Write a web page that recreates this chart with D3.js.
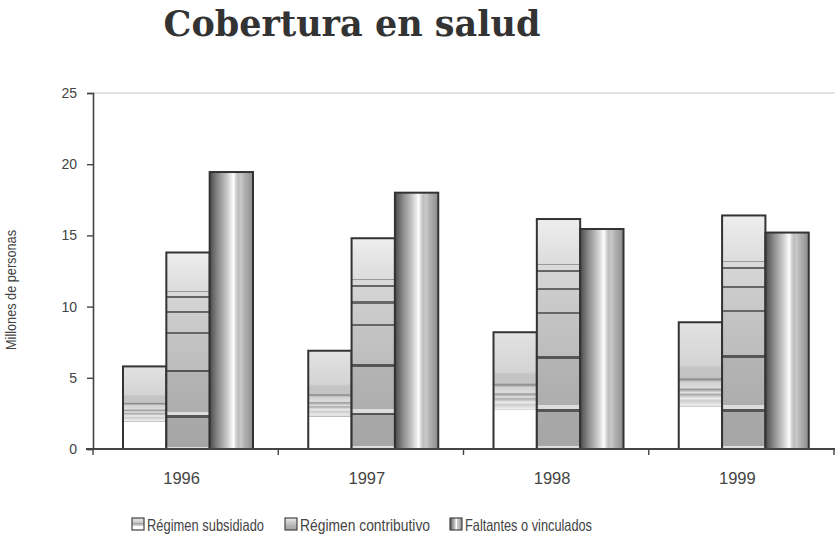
<!DOCTYPE html>
<html>
<head>
<meta charset="utf-8">
<script src="https://cdn.jsdelivr.net/npm/d3@7/dist/d3.min.js"></script>
<style>
  body { margin: 0; background: #fff; }
  svg { display: block; }
</style>
</head>
<body>
<script>
// data (millions of people)
const years = ["1996", "1997", "1998", "1999"];
const seriesNames = ["Régimen subsidiado", "Régimen contributivo", "Faltantes o vinculados"];
const subsidiado = [5.8, 6.9, 8.2, 8.9];
const contributivo = [13.8, 14.8, 16.15, 16.4];
const faltantes = [19.45, 18.0, 15.45, 15.2];
const yTicks = [0, 5, 10, 15, 20, 25];

const W = 835, H = 542;
const svg = d3.select("body").append("svg")
  .attr("width", W)
  .attr("height", H)
  .attr("xmlns", "http://www.w3.org/2000/svg");

svg.append("rect").attr("width", W).attr("height", H).attr("fill", "#fff");

const defs = svg.append("defs");

//vertical gradient helper (hard stops), offsets measured from bottom
function vGrad(id, stops) {
  const g = defs.append("linearGradient")
    .attr("id", id)
    .attr("x1", 0).attr("y1", 1).attr("x2", 0).attr("y2", 0);
  stops.forEach(s => {
    g.append("stop").attr("offset", s[0]).attr("stop-color", s[1]);
  });
}

vGrad("gSub", [
  [0, "#fff"], [0.33, "#fff"], [0.33, "#bbb"], [0.345, "#eee"],
  [0.38, "#ccc"], [0.40, "#eee"], [0.43, "#aaa"], [0.445, "#e4e4e4"],
  [0.47, "#999"], [0.485, "#ddd"], [0.53, "#d0d0d0"], [0.55, "#888"],
  [0.565, "#c4c4c4"], [0.64, "#c4c4c4"], [0.66, "#d4d4d4"], [1, "#e2e2e2"]
]);

vGrad("gCon", [
  [0, "#ddd"], [0.012, "#ddd"], [0.012, "#a6a6a6"], [0.16, "#a8a8a8"],
  [0.16, "#555"], [0.172, "#555"], [0.172, "#ddd"], [0.19, "#ddd"],
  [0.19, "#aeaeae"], [0.39, "#b4b4b4"], [0.39, "#555"], [0.403, "#555"],
  [0.403, "#bdbdbd"], [0.585, "#c4c4c4"], [0.585, "#666"], [0.595, "#666"],
  [0.595, "#c8c8c8"], [0.69, "#cccccc"], [0.69, "#666"], [0.70, "#666"],
  [0.70, "#d2d2d2"], [0.77, "#d4d4d4"], [0.77, "#666"], [0.78, "#666"],
  [0.78, "#dadada"], [0.80, "#dadada"], [0.80, "#999"], [0.806, "#999"],
  [0.806, "#dcdcdc"], [1, "#eeeeee"]
]);

const gF = defs.append("linearGradient")
  .attr("id", "gFal")
  .attr("x1", 0).attr("y1", 0).attr("x2", 1).attr("y2", 0);
[[0, "#4a4a4a"], [0.08, "#666"], [0.2, "#8e8e8e"], [0.32, "#b0b0b0"],
 [0.42, "#cfcfcf"], [0.5, "#ececec"], [0.55, "#fff"], [0.6, "#d8d8d8"],
 [0.66, "#bdbdbd"], [0.72, "#c8c8c8"], [0.8, "#b2b2b2"], [0.9, "#a0a0a0"],
 [1, "#8a8a8a"]].forEach(s => gF.append("stop").attr("offset", s[0]).attr("stop-color", s[1]));

const fills = ["url(#gSub)", "url(#gCon)", "url(#gFal)"];

// scales
const x0 = d3.scaleBand().domain(years).range([93, 834]).paddingInner(0).paddingOuter(0);
const x1 = d3.scaleBand().domain([0, 1, 2]).range([30, 160]).padding(0);
const y = d3.scaleLinear().domain([0, 25]).range([449, 93]);

const table = years.map((yr, i) => ({
  year: yr,
  values: [subsidiado[i], contributivo[i], faltantes[i]]
}));

const font = "'Liberation Sans', Arial, sans-serif";

// title
svg.append("text")
  .text("Cobertura en salud")
  .attr("x", 352)
  .attr("y", 36)
  .attr("text-anchor", "middle")
  .attr("font-family", "'DejaVu Serif', serif")
  .attr("font-weight", "bold")
  .attr("font-size", 35)
  .attr("fill", "#333");

// top gridline at 25
svg.append("line")
  .attr("x1", 93).attr("x2", 835)
  .attr("y1", y(25)).attr("y2", y(25))
  .attr("stroke", "#c4c4c4")
  .attr("stroke-width", 1);

// bars
const groups = svg.selectAll("g.year")
  .data(table)
  .join("g")
  .attr("class", "year")
  .attr("transform", d => `translate(${x0(d.year)},0)`);

groups.selectAll("rect")
  .data(d => d.values.map((v, k) => ({ k, v })))
  .join("rect")
  .attr("x", d => x1(d.k))
  .attr("y", d => y(d.v))
  .attr("width", x1.bandwidth())
  .attr("height", d => y(0) - y(d.v))
  .attr("fill", d => fills[d.k])
  .attr("stroke", "#333")
  .attr("stroke-width", 2);

// y axis
const yAxis = svg.append("g")
  .attr("transform", "translate(93,0)")
  .call(d3.axisLeft(y).tickValues(yTicks).tickSize(6).tickPadding(10));
yAxis.select(".domain").attr("stroke", "#444").attr("stroke-width", 1.6);
yAxis.selectAll(".tick line").attr("stroke", "#444").attr("stroke-width", 1.4);
yAxis.selectAll(".tick text")
  .attr("font-family", font)
  .attr("font-size", 14)
  .attr("fill", "#444");

// x axis with ticks at band edges
svg.append("line")
  .attr("x1", 86).attr("x2", 835)
  .attr("y1", y(0)).attr("y2", y(0))
  .attr("stroke", "#444").attr("stroke-width", 1.8);

svg.selectAll("line.xtick")
  .data(years.map(yr => x0(yr)).concat([x0(years[3]) + x0.bandwidth()]))
  .join("line")
  .attr("class", "xtick")
  .attr("x1", d => d).attr("x2", d => d)
  .attr("y1", y(0)).attr("y2", y(0) + 6)
  .attr("stroke", "#444").attr("stroke-width", 1.4);

svg.selectAll("text.xlab")
  .data(years)
  .join("text")
  .attr("class", "xlab")
  .text(d => d)
  .attr("x", d => x0(d) + x0.bandwidth() / 2 - 4)
  .attr("y", 484)
  .attr("text-anchor", "middle")
  .attr("font-family", font)
  .attr("font-size", 16.5)
  .attr("fill", "#444");

// y label
svg.append("text")
  .text("Millones de personas")
  .attr("transform", "translate(16,290) rotate(-90)")
  .attr("text-anchor", "middle")
  .attr("font-family", font)
  .attr("font-size", 14)
  .attr("textLength", 120)
  .attr("lengthAdjust", "spacingAndGlyphs")
  .attr("fill", "#444");

// legend
const legendX = [132, 285, 450];
const legendW = [117, 130, 127];
const legend = svg.selectAll("g.leg")
  .data(seriesNames)
  .join("g")
  .attr("class", "leg")
  .attr("transform", (d, i) => `translate(${legendX[i]},518)`);

legend.append("rect")
  .attr("width", 12).attr("height", 12)
  .attr("fill", (d, i) => fills[i])
  .attr("stroke", "#444")
  .attr("stroke-width", 1.2);

legend.append("text")
  .text(d => d)
  .attr("x", 15)
  .attr("y", 12.5)
  .attr("font-family", font)
  .attr("font-size", 16.5)
  .attr("textLength", (d, i) => legendW[i])
  .attr("lengthAdjust", "spacingAndGlyphs")
  .attr("fill", "#444");
</script>
</body>
</html>
